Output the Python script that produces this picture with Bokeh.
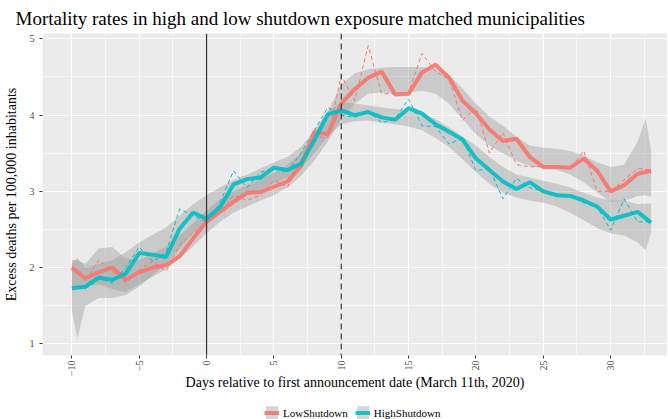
import math
from bokeh.plotting import figure
from bokeh.layouts import column
from bokeh.models import Range1d, FixedTicker, Span, Legend, LegendItem
from bokeh.embed import file_html
from bokeh.resources import INLINE

# ---------------- data ----------------
days = list(range(-10, 34))

low_ma = [2.00, 1.86, 1.94, 2.00, 1.84, 1.94, 2.00, 2.03, 2.15, 2.38,
          2.60, 2.73, 2.86, 2.98, 2.99, 3.06, 3.13, 3.33, 3.78, 3.75,
          4.15, 4.34, 4.49, 4.57, 4.27, 4.28, 4.56, 4.66, 4.49, 4.19,
          4.02, 3.81, 3.66, 3.69, 3.45, 3.32, 3.32, 3.31, 3.43, 3.27,
          3.00, 3.08, 3.23, 3.27]
high_ma = [1.73, 1.75, 1.87, 1.84, 1.92, 2.19, 2.17, 2.14, 2.51, 2.72,
           2.64, 2.79, 3.09, 3.16, 3.18, 3.31, 3.28, 3.36, 3.67, 4.01,
           4.06, 4.00, 4.04, 3.97, 3.94, 4.09, 4.02, 3.88, 3.78, 3.68,
           3.43, 3.28, 3.13, 3.03, 3.12, 3.00, 2.95, 2.94, 2.88, 2.80,
           2.63, 2.68, 2.73, 2.59]
low_raw = [2.02, 1.82, 2.10, 1.95, 1.80, 1.97, 2.08, 1.95, 2.30, 2.45,
           2.62, 2.72, 2.95, 2.88, 2.95, 3.15, 3.05, 3.40, 3.72, 3.70,
           4.52, 4.19, 4.91, 4.28, 4.28, 4.30, 4.81, 4.57, 4.47, 3.93,
           4.10, 3.50, 3.77, 3.35, 3.32, 3.33, 3.32, 3.30, 3.53, 3.00,
           3.00, 3.15, 3.30, 3.28]
high_raw = [1.75, 1.72, 1.85, 1.80, 2.00, 2.27, 2.08, 2.20, 2.77, 2.68,
            2.60, 2.85, 3.27, 3.05, 3.25, 3.30, 3.25, 3.50, 3.80, 4.10,
            4.00, 3.97, 4.05, 3.90, 3.95, 4.21, 3.86, 3.85, 3.62, 3.70,
            3.27, 3.30, 2.90, 3.17, 3.05, 3.00, 2.95, 2.95, 2.85, 2.80,
            2.49, 2.90, 2.60, 2.60]

band_days = [-10, -9.6] + list(range(-9, 33)) + [32.6, 33]
low_lo = [1.75, 1.75, 1.75, 1.78, 1.72, 1.68, 1.78, 1.88, 1.98, 2.12, 2.28,
          2.45, 2.60, 2.72, 2.80, 2.88, 2.95, 3.05, 3.20, 3.40, 3.65,
          3.95, 4.15, 4.28, 4.30, 4.28, 4.30, 4.32, 4.28, 4.15, 3.95,
          3.75, 3.60, 3.50, 3.40, 3.33, 3.30, 3.28, 3.22, 3.12, 2.98,
          2.86, 2.87, 2.94, 2.95, 2.93]
low_hi = [2.10, 2.10, 2.05, 2.25, 2.27, 2.12, 2.10, 2.18, 2.28, 2.42, 2.58,
          2.75, 2.90, 3.00, 3.08, 3.16, 3.24, 3.35, 3.50, 3.75, 4.05,
          4.40, 4.55, 4.60, 4.62, 4.63, 4.63, 4.63, 4.60, 4.53, 4.35,
          4.15, 3.98, 3.86, 3.72, 3.60, 3.57, 3.56, 3.53, 3.47, 3.38,
          3.32, 3.35, 3.65, 3.96, 3.54]
high_lo = [1.44, 1.07, 1.50, 1.60, 1.60, 1.64, 1.75, 1.90, 2.05, 2.25, 2.45,
           2.60, 2.75, 2.85, 2.95, 3.02, 3.10, 3.18, 3.30, 3.50, 3.72,
           3.88, 3.92, 3.93, 3.90, 3.88, 3.85, 3.80, 3.70, 3.58, 3.42,
           3.25, 3.10, 2.98, 2.92, 2.88, 2.85, 2.80, 2.72, 2.62, 2.52,
           2.45, 2.42, 2.33, 2.23, 2.45]
high_hi = [2.05, 2.13, 2.00, 2.05, 2.10, 2.20, 2.33, 2.43, 2.53, 2.68, 2.83,
           2.95, 3.05, 3.15, 3.22, 3.30, 3.38, 3.45, 3.58, 3.80, 4.05,
           4.17, 4.15, 4.13, 4.10, 4.08, 4.06, 4.02, 3.95, 3.84, 3.72,
           3.60, 3.45, 3.32, 3.22, 3.18, 3.14, 3.10, 3.05, 2.98, 2.92,
           2.88, 2.88, 2.83, 2.84, 2.84]

x_ticks = [-10, -5, 0, 5, 10, 15, 20, 25, 30]
x_minor = [-12.5, -7.5, -2.5, 2.5, 7.5, 12.5, 17.5, 22.5, 27.5, 32.5]
y_ticks = [1, 2, 3, 4, 5]
y_minor = [1.5, 2.5, 3.5, 4.5]
series_labels = ["LowShutdown", "HighShutdown"]

RED = "#F8766D"
TEAL = "#00BFC4"
FONT = "Liberation Serif"

# ---------------- main figure ----------------
p = figure(frame_width=625, frame_height=322, output_backend="svg", toolbar_location=None,
           x_range=Range1d(-12.18, 34.22), y_range=Range1d(0.847, 5.07),
           min_border_left=35, min_border_right=0, min_border_top=25,
           min_border_bottom=0)
p.background_fill_color = "#EBEBEB"
p.border_fill_color = "white"
p.outline_line_color = None

p.title.text = "Mortality rates in high and low shutdown exposure matched municipalities"
p.title.text_font = FONT
p.title.text_font_size = "19px"
p.title.text_font_style = "normal"
p.title.text_color = "black"
p.title.align = "left"
p.title.offset = -27

p.xaxis.ticker = FixedTicker(ticks=x_ticks, minor_ticks=x_minor)
p.yaxis.ticker = FixedTicker(ticks=y_ticks, minor_ticks=y_minor)
for g in (p.xgrid, p.ygrid):
    g.grid_line_color = "white"
    g.grid_line_width = 1.2
    g.minor_grid_line_color = "white"
    g.minor_grid_line_width = 0.6

for ax in (p.xaxis, p.yaxis):
    ax.axis_line_color = None
    ax.major_tick_line_color = "#333333"
    ax.major_tick_in = 0
    ax.major_tick_out = 3
    ax.minor_tick_line_color = None
    ax.major_label_text_font = FONT
    ax.major_label_text_color = "#4D4D4D"
    ax.axis_label_text_font = FONT
    ax.axis_label_text_font_style = "normal"
    ax.axis_label_text_font_size = "14px"
    ax.axis_label_text_color = "black"

p.xaxis.major_label_orientation = math.pi / 2
p.xaxis.major_label_text_font_size = "10px"
p.xaxis.major_label_standoff = 1
p.xaxis.axis_label_standoff = -4
p.xaxis.axis_label = "Days relative to first announcement date (March 11th, 2020)"
p.yaxis.major_label_text_font_size = "10px"
p.yaxis.major_label_standoff = 4
p.yaxis.axis_label_standoff = 8
p.yaxis.axis_label = "Excess deaths per 100,000 inhabitants"

# ribbons
rb_low = p.varea(x=band_days, y1=low_lo, y2=low_hi, fill_color="#999999", fill_alpha=0.4)
rb_high = p.varea(x=band_days, y1=high_lo, y2=high_hi, fill_color="#999999", fill_alpha=0.4)

# raw dashed
p.line(days, low_raw, line_color=RED, line_width=1, line_dash="4 3")
p.line(days, high_raw, line_color=TEAL, line_width=1, line_dash="4 3")

# thick lines
ln_low = p.line(days, low_ma, line_color=RED, line_width=4, line_alpha=0.9)
ln_high = p.line(days, high_ma, line_color=TEAL, line_width=4, line_alpha=0.9)

p.add_layout(Span(location=0, dimension="height", line_color="#333333", line_width=1.2))
p.add_layout(Span(location=10, dimension="height", line_color="#333333", line_width=1.2,
                  line_dash="6 4"))

# ---------------- legend strip ----------------
lg = figure(width=660, height=29, output_backend="svg", toolbar_location=None,
            x_range=Range1d(0, 1), y_range=Range1d(0, 1),
            x_axis_location=None, y_axis_location=None,
            min_border=0, min_border_left=0, min_border_right=0,
            min_border_top=0, min_border_bottom=0)
lg.outline_line_color = None
lg.xgrid.visible = False
lg.ygrid.visible = False
lg.background_fill_color = "white"

items = []
for lab, col in zip(series_labels, [RED, TEAL]):
    r1 = lg.varea(x=[5, 6], y1=[5, 5], y2=[6, 6], fill_color="#999999", fill_alpha=0.4)
    r2 = lg.line([5, 6], [5, 6], line_color=col, line_width=4, line_alpha=0.9)
    items.append(LegendItem(label=lab, renderers=[r1, r2]))

legend = Legend(items=items, orientation="horizontal", location=(222, 1))
legend.label_text_font = FONT
legend.label_text_font_size = "11px"
legend.label_text_color = "black"
legend.glyph_width = 15
legend.glyph_height = 17
legend.label_height = 17
legend.label_standoff = 4
legend.spacing = 7
legend.padding = 0
legend.margin = 0
legend.border_line_color = None
legend.background_fill_alpha = 0
lg.add_layout(legend, "center")

layout = column(p, lg, spacing=0)
open("out.html", "w").write(file_html(layout, INLINE))
